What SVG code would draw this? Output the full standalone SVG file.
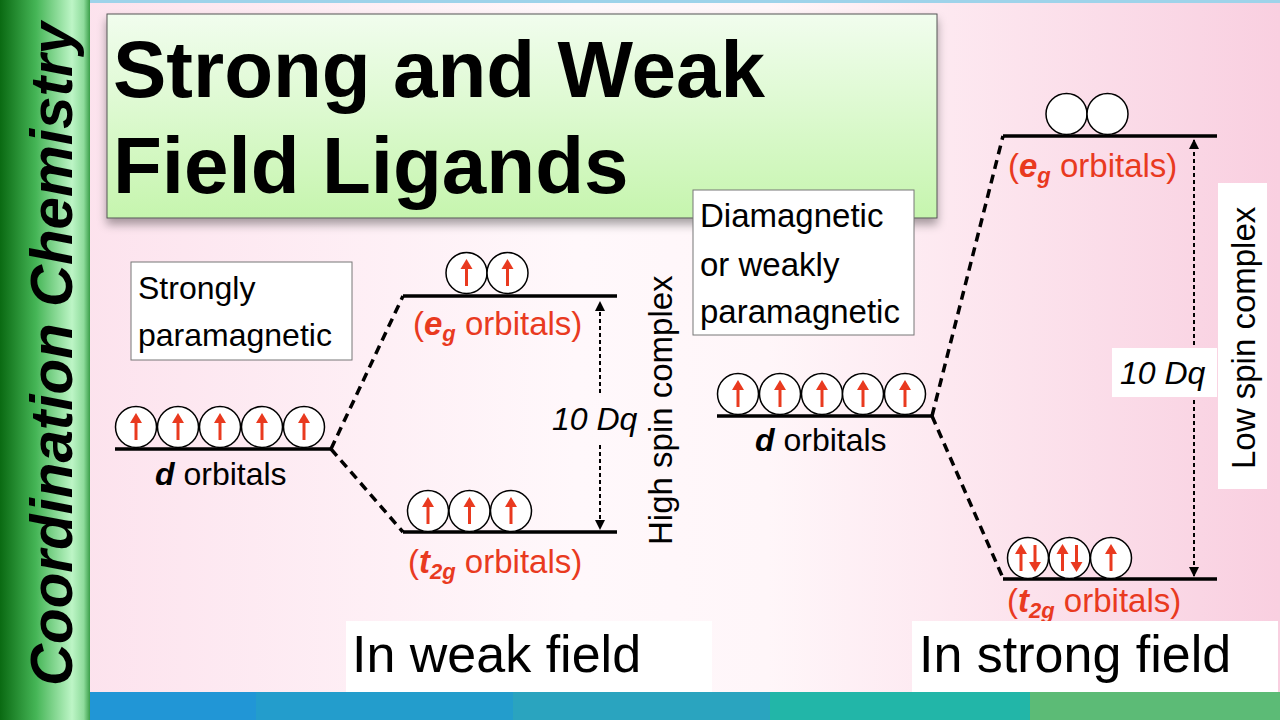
<svg xmlns="http://www.w3.org/2000/svg" width="1280" height="720" viewBox="0 0 1280 720">
<defs>
<linearGradient id="bg" x1="0" y1="0" x2="1" y2="0">
<stop offset="0" stop-color="#fcdfeb"/>
<stop offset="0.45" stop-color="#fff8fb"/>
<stop offset="0.6" stop-color="#fff6f9"/>
<stop offset="1" stop-color="#f9cfe0"/>
</linearGradient>
<linearGradient id="bar" x1="0" y1="0" x2="1" y2="0">
<stop offset="0" stop-color="#0a6a12"/>
<stop offset="0.4" stop-color="#45b556"/>
<stop offset="0.8" stop-color="#bdf5c6"/>
<stop offset="0.93" stop-color="#8fdc9c"/>
<stop offset="1" stop-color="#3b9f4a"/>
</linearGradient>
<linearGradient id="title" x1="0" y1="0" x2="0" y2="1">
<stop offset="0" stop-color="#f1fdee"/>
<stop offset="1" stop-color="#c6f5ae"/>
</linearGradient>
<filter id="sh" x="-5%" y="-5%" width="110%" height="125%">
<feDropShadow dx="0" dy="6" stdDeviation="5" flood-color="#000" flood-opacity="0.35"/>
</filter>
<marker id="ah" viewBox="0 0 10 10" refX="9" refY="5" markerWidth="5" markerHeight="5" orient="auto-start-reverse">
<path d="M0,0 L10,5 L0,10 Z" fill="#000"/>
</marker>
<g id="up"><line x1="0" y1="13" x2="0" y2="-6" stroke="#e93a1f" stroke-width="3"/><path d="M-6,-4 L0,-14 L6,-4 Z" fill="#e93a1f"/></g>
<g id="down"><line x1="0" y1="-13" x2="0" y2="6" stroke="#e93a1f" stroke-width="3"/><path d="M-6,4 L0,14 L6,4 Z" fill="#e93a1f"/></g>
</defs>
<style>
.orb{fill:#fff;stroke:#000;stroke-width:1.5}
.lvl{stroke:#000;stroke-width:3.5}
.dash{stroke:#000;stroke-width:3.5;stroke-dasharray:9 6;fill:none}
.dot{stroke:#000;stroke-width:2;stroke-dasharray:4 3;fill:none}
.t{font-family:"Liberation Sans",Arial,sans-serif}
.lab{font-family:"Liberation Sans",Arial,sans-serif;font-size:32px;fill:#000}
.red{font-family:"Liberation Sans",Arial,sans-serif;font-size:33px;fill:#e93a1f}
.bi{font-weight:bold;font-style:italic}
.box{fill:#fff;stroke:#777;stroke-width:1}
</style>
<rect x="0" y="0" width="1280" height="720" fill="url(#bg)"/>
<rect x="90" y="0" width="1190" height="3" fill="#9ed3ea"/>
<rect x="0" y="0" width="90" height="720" fill="url(#bar)"/>
<text class="t" transform="translate(72,686) rotate(-90)" font-size="60" font-weight="bold" font-style="italic" textLength="664" lengthAdjust="spacingAndGlyphs">Coordination Chemistry</text>
<g id="footer">
<rect x="90" y="692" width="166" height="28" fill="#2196d6"/>
<rect x="256" y="692" width="257" height="28" fill="#239dcc"/>
<rect x="513" y="692" width="257" height="28" fill="#2aa4bf"/>
<rect x="770" y="692" width="260" height="28" fill="#22b6a8"/>
<rect x="1030" y="692" width="250" height="28" fill="#5cbb76"/>
</g>
<g id="title-box">
<rect x="107" y="14" width="830" height="204" fill="url(#title)" stroke="#555" stroke-width="1" filter="url(#sh)"/>
<text class="t" x="113" y="97" font-size="80" font-weight="bold">Strong and Weak</text>
<text class="t" x="113" y="193" font-size="80" font-weight="bold">Field Ligands</text>
</g>
<g id="connectors">
<path class="dash" d="M331,449 L403,296"/>
<path class="dash" d="M331,449 L403,532"/>
<path class="dash" d="M932,416 L1003,136"/>
<path class="dash" d="M932,416 L1003,578"/>
<path class="dot" d="M600,393 L600,302" marker-end="url(#ah)"/>
<path class="dot" d="M600,445 L600,529" marker-end="url(#ah)"/>
<path class="dot" d="M1194,345 L1194,140" marker-end="url(#ah)"/>
<path class="dot" d="M1194,400 L1194,576" marker-end="url(#ah)"/>
</g>
<g id="note-strong-para">
<rect class="box" x="131" y="262" width="221" height="98"/>
<text class="lab" x="138" y="299" font-size="33">Strongly</text>
<text class="lab" x="138" y="346" font-size="33">paramagnetic</text>
</g>
<g id="note-dia">
<rect class="box" x="693" y="190" width="221" height="145"/>
<text class="lab" x="700" y="227" style="font-size:33px">Diamagnetic</text>
<text class="lab" x="700" y="276" style="font-size:33px">or weakly</text>
<text class="lab" x="700" y="323" style="font-size:33px">paramagnetic</text>
</g>
<g id="weak-d">
<line class="lvl" x1="115" y1="449" x2="331" y2="449"/>
<circle class="orb" cx="136" cy="427" r="20.5"/><use href="#up" x="136" y="427"/>
<circle class="orb" cx="178" cy="427" r="20.5"/><use href="#up" x="178" y="427"/>
<circle class="orb" cx="220" cy="427" r="20.5"/><use href="#up" x="220" y="427"/>
<circle class="orb" cx="262" cy="427" r="20.5"/><use href="#up" x="262" y="427"/>
<circle class="orb" cx="304" cy="427" r="20.5"/><use href="#up" x="304" y="427"/>
<text class="lab" x="155" y="485"><tspan class="bi">d</tspan> orbitals</text>
</g>
<g id="weak-eg">
<line class="lvl" x1="403" y1="296" x2="617" y2="296"/>
<circle class="orb" cx="466.5" cy="273" r="20.5"/><use href="#up" x="466.5" y="273"/>
<circle class="orb" cx="507.5" cy="273" r="20.5"/><use href="#up" x="507.5" y="273"/>
<text class="red" x="413" y="335">(<tspan class="bi">e</tspan><tspan class="bi" font-size="22" dy="6">g</tspan><tspan dy="-6"> orbitals)</tspan></text>
</g>
<g id="weak-t2g">
<line class="lvl" x1="403" y1="532" x2="617" y2="532"/>
<circle class="orb" cx="428" cy="511" r="20.5"/><use href="#up" x="428" y="511"/>
<circle class="orb" cx="469.5" cy="511" r="20.5"/><use href="#up" x="469.5" y="511"/>
<circle class="orb" cx="511" cy="511" r="20.5"/><use href="#up" x="511" y="511"/>
<text class="red" x="408" y="573">(<tspan class="bi">t</tspan><tspan class="bi" font-size="22" dy="6">2g</tspan><tspan dy="-6"> orbitals)</tspan></text>
</g>
<g id="weak-dq">
<text class="lab" x="552" y="430" font-style="italic">10 Dq</text>
</g>
<g id="high-spin">
<text class="lab" transform="translate(672,545) rotate(-90)" style="font-size:33px">High spin complex</text>
</g>
<g id="strong-d">
<line class="lvl" x1="717" y1="416" x2="932" y2="416"/>
<circle class="orb" cx="738" cy="394" r="20.5"/><use href="#up" x="738" y="394"/>
<circle class="orb" cx="780" cy="394" r="20.5"/><use href="#up" x="780" y="394"/>
<circle class="orb" cx="822" cy="394" r="20.5"/><use href="#up" x="822" y="394"/>
<circle class="orb" cx="863" cy="394" r="20.5"/><use href="#up" x="863" y="394"/>
<circle class="orb" cx="905" cy="394" r="20.5"/><use href="#up" x="905" y="394"/>
<text class="lab" x="755" y="451"><tspan class="bi">d</tspan> orbitals</text>
</g>
<g id="strong-eg">
<line class="lvl" x1="1003" y1="136" x2="1217" y2="136"/>
<circle class="orb" cx="1066.5" cy="114" r="20.5"/>
<circle class="orb" cx="1107.5" cy="114" r="20.5"/>
<text class="red" x="1008" y="177">(<tspan class="bi">e</tspan><tspan class="bi" font-size="22" dy="6">g</tspan><tspan dy="-6"> orbitals)</tspan></text>
</g>
<g id="strong-t2g">
<line class="lvl" x1="1003" y1="579" x2="1217" y2="579"/>
<circle class="orb" cx="1028" cy="558" r="20.5"/><use href="#up" x="1021" y="558"/><use href="#down" x="1035" y="558"/>
<circle class="orb" cx="1069.5" cy="558" r="20.5"/><use href="#up" x="1062.5" y="558"/><use href="#down" x="1076.5" y="558"/>
<circle class="orb" cx="1111" cy="558" r="20.5"/><use href="#up" x="1111" y="558"/>
<text class="red" x="1007" y="612">(<tspan class="bi">t</tspan><tspan class="bi" font-size="22" dy="6">2g</tspan><tspan dy="-6"> orbitals)</tspan></text>
</g>
<g id="strong-dq">
<rect x="1112" y="348" width="105" height="49" fill="#fff"/>
<text class="lab" x="1120" y="384" font-style="italic">10 Dq</text>
</g>
<g id="low-spin">
<rect x="1218" y="183" width="49" height="306" fill="#fff"/>
<text class="lab" transform="translate(1255,469) rotate(-90)" style="font-size:33px">Low spin complex</text>
</g>
<g id="caption-weak">
<rect x="346" y="621" width="366" height="71" fill="#fff"/>
<text class="t" x="352" y="672" font-size="52">In weak field</text>
</g>
<g id="caption-strong">
<rect x="912" y="621" width="366" height="71" fill="#fff"/>
<text class="t" x="919" y="672" font-size="52">In strong field</text>
</g>
</svg>
